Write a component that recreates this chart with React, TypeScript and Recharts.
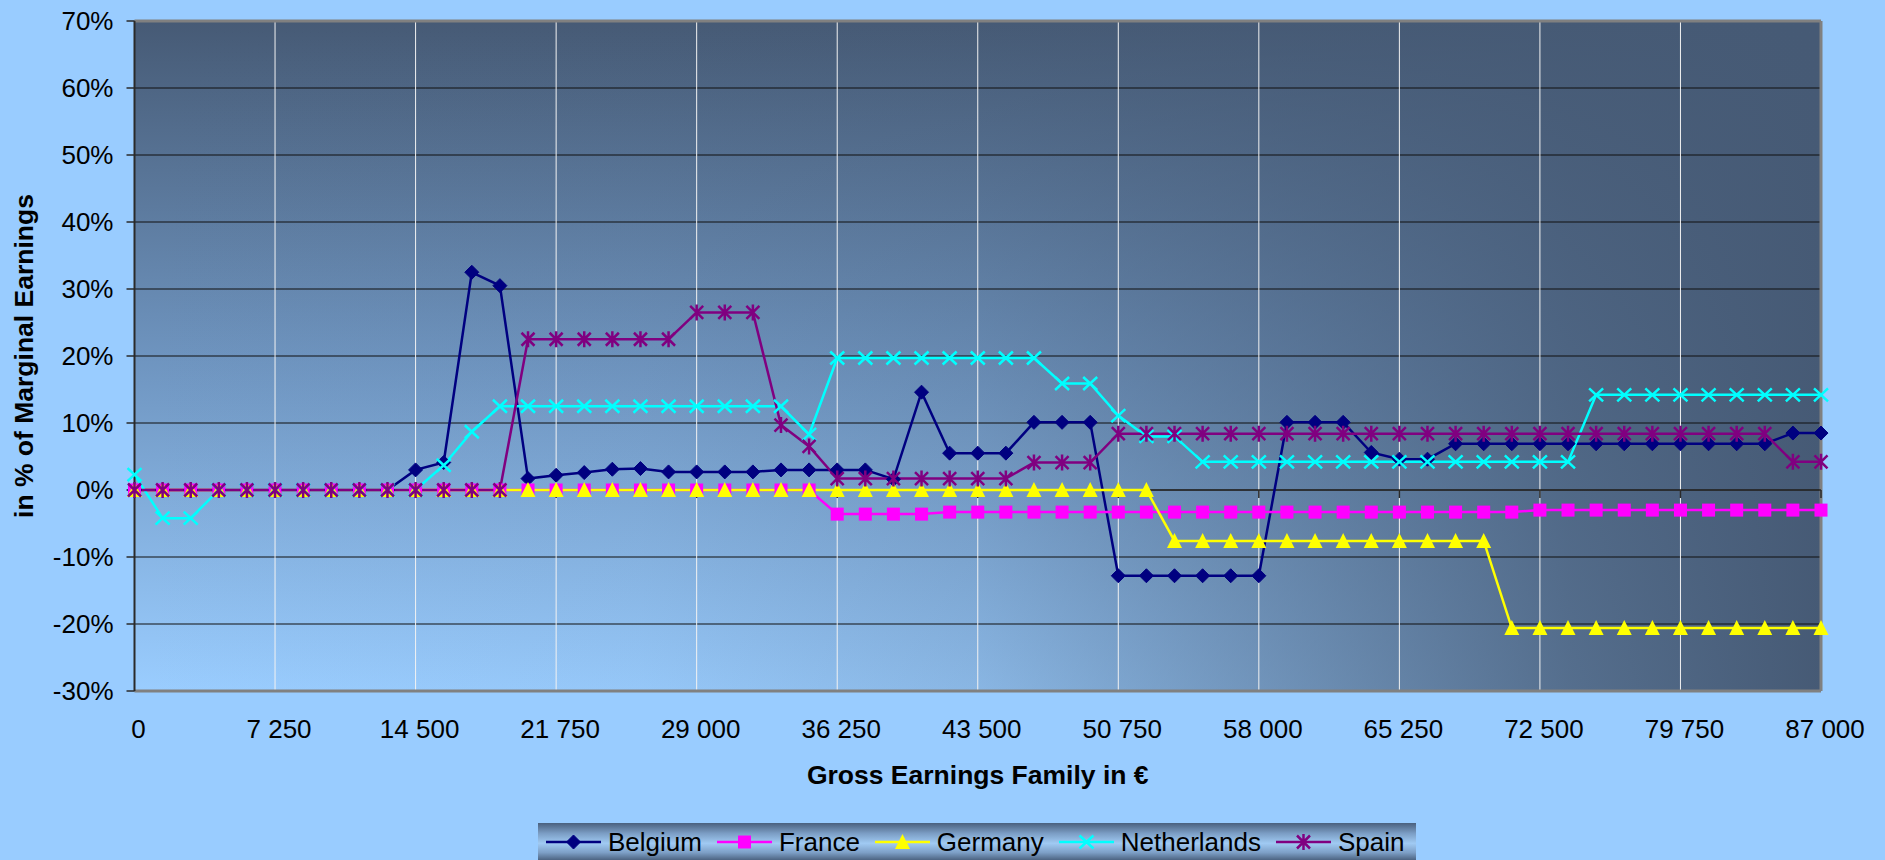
import React from 'react';
import { LineChart, Line, XAxis, YAxis, CartesianGrid, ReferenceLine, Legend } from 'recharts';

const FONT = '"Liberation Sans", Arial, Helvetica, sans-serif';

// Gross earnings of the family (categories on the x axis), in €
const INCOME = [
  0, 1450, 2900, 4350, 5800, 7250, 8700, 10150, 11600, 13050,
  14500, 15950, 17400, 18850, 20300, 21750, 23200, 24650, 26100, 27550,
  29000, 30450, 31900, 33350, 34800, 36250, 37700, 39150, 40600, 42050,
  43500, 44950, 46400, 47850, 49300, 50750, 52200, 53650, 55100, 56550,
  58000, 59450, 60900, 62350, 63800, 65250, 66700, 68150, 69600, 71050,
  72500, 73950, 75400, 76850, 78300, 79750, 81200, 82650, 84100, 85550,
  87000,
];

// Marginal earnings in % per country
const BELGIUM = [
  0, 0, 0, 0, 0, 0, 0, 0, 0, 0,
  3.0, 4.1, 32.5, 30.5, 1.7, 2.2, 2.6, 3.1, 3.2, 2.7,
  2.7, 2.7, 2.7, 3.0, 3.0, 3.0, 3.0, 1.6, 14.6, 5.5,
  5.5, 5.5, 10.1, 10.1, 10.1, -12.8, -12.8, -12.8, -12.8, -12.8,
  -12.8, 10.1, 10.1, 10.1, 5.6, 4.6, 4.6, 6.9, 6.9, 6.9,
  6.9, 6.9, 6.9, 6.9, 6.9, 6.9, 6.9, 6.9, 6.9, 8.5,
  8.5,
];
const FRANCE = [
  0, 0, 0, 0, 0, 0, 0, 0, 0, 0,
  0, 0, 0, 0, 0, 0, 0, 0, 0, 0,
  0, 0, 0, 0, 0, -3.6, -3.6, -3.6, -3.6, -3.3,
  -3.3, -3.3, -3.3, -3.3, -3.3, -3.3, -3.3, -3.3, -3.3, -3.3,
  -3.3, -3.3, -3.3, -3.3, -3.3, -3.3, -3.3, -3.3, -3.3, -3.3,
  -3.0, -3.0, -3.0, -3.0, -3.0, -3.0, -3.0, -3.0, -3.0, -3.0,
  -3.0,
];
const GERMANY = [
  0, 0, 0, 0, 0, 0, 0, 0, 0, 0,
  0, 0, 0, 0, 0, 0, 0, 0, 0, 0,
  0, 0, 0, 0, 0, 0, 0, 0, 0, 0,
  0, 0, 0, 0, 0, 0, 0, -7.6, -7.6, -7.6,
  -7.6, -7.6, -7.6, -7.6, -7.6, -7.6, -7.6, -7.6, -7.6, -20.6,
  -20.6, -20.6, -20.6, -20.6, -20.6, -20.6, -20.6, -20.6, -20.6, -20.6,
  -20.6,
];
const NETHERLANDS = [
  2.3, -4.2, -4.2, 0, 0, 0, 0, 0, 0, 0,
  0, 3.7, 8.7, 12.5, 12.5, 12.5, 12.5, 12.5, 12.5, 12.5,
  12.5, 12.5, 12.5, 12.5, 8.3, 19.7, 19.7, 19.7, 19.7, 19.7,
  19.7, 19.7, 19.7, 15.9, 15.9, 11.1, 8.0, 8.0, 4.2, 4.2,
  4.2, 4.2, 4.2, 4.2, 4.2, 4.2, 4.2, 4.2, 4.2, 4.2,
  4.2, 4.2, 14.2, 14.2, 14.2, 14.2, 14.2, 14.2, 14.2, 14.2,
  14.2,
];
const SPAIN = [
  0, 0, 0, 0, 0, 0, 0, 0, 0, 0,
  0, 0, 0, 0, 22.5, 22.5, 22.5, 22.5, 22.5, 22.5,
  26.5, 26.5, 26.5, 9.7, 6.5, 1.7, 1.7, 1.7, 1.7, 1.7,
  1.7, 1.7, 4.1, 4.1, 4.1, 8.4, 8.4, 8.4, 8.4, 8.4,
  8.4, 8.4, 8.4, 8.4, 8.4, 8.4, 8.4, 8.4, 8.4, 8.4,
  8.4, 8.4, 8.4, 8.4, 8.4, 8.4, 8.4, 8.4, 8.4, 4.2,
  4.2,
];

const X_TICKS = [0, 7250, 14500, 21750, 29000, 36250, 43500, 50750, 58000, 65250, 72500, 79750, 87000];
const Y_TICKS = [-30, -20, -10, 0, 10, 20, 30, 40, 50, 60, 70];

const X_TITLE = 'Gross Earnings Family in €';
const Y_TITLE = 'in % of Marginal Earnings';

type MarkerType = 'diamond' | 'square' | 'triangle' | 'x' | 'star';

const SERIES: { name: string; values: number[]; color: string; marker: MarkerType }[] = [
  { name: 'Belgium', values: BELGIUM, color: '#000080', marker: 'diamond' },
  { name: 'France', values: FRANCE, color: '#FF00FF', marker: 'square' },
  { name: 'Germany', values: GERMANY, color: '#FFFF00', marker: 'triangle' },
  { name: 'Netherlands', values: NETHERLANDS, color: '#00FFFF', marker: 'x' },
  { name: 'Spain', values: SPAIN, color: '#800080', marker: 'star' },
];

const data = INCOME.map((x, i) => {
  const row: Record<string, number> = { x };
  SERIES.forEach((s) => {
    row[s.name] = s.values[i];
  });
  return row;
});

const fmtThousands = (v: number) => String(v).replace(/\B(?=(\d{3})+(?!\d))/g, ' ');

function Marker({ type, cx, cy, color }: { type: MarkerType; cx: number; cy: number; color: string }) {
  if (cx == null || cy == null || isNaN(cx) || isNaN(cy)) return null;
  switch (type) {
    case 'diamond':
      return (
        <polygon
          points={`${cx},${cy - 7} ${cx + 7},${cy} ${cx},${cy + 7} ${cx - 7},${cy}`}
          fill={color}
          stroke={color}
          strokeWidth={1}
        />
      );
    case 'square':
      return <rect x={cx - 6.5} y={cy - 6.5} width={13} height={13} fill={color} />;
    case 'triangle':
      return <polygon points={`${cx},${cy - 8} ${cx + 7.5},${cy + 7} ${cx - 7.5},${cy + 7}`} fill={color} />;
    case 'x':
      return (
        <path
          d={`M${cx - 7},${cy - 6.5}L${cx + 7},${cy + 6.5}M${cx + 7},${cy - 6.5}L${cx - 7},${cy + 6.5}`}
          stroke={color}
          strokeWidth={2.5}
          fill="none"
        />
      );
    case 'star':
      return (
        <path
          d={`M${cx - 6.5},${cy - 6.5}L${cx + 6.5},${cy + 6.5}M${cx + 6.5},${cy - 6.5}L${cx - 6.5},${cy + 6.5}M${cx},${cy - 8}L${cx},${cy + 8}`}
          stroke={color}
          strokeWidth={2.5}
          fill="none"
        />
      );
    default:
      return null;
  }
}

const XTitle = (props: any) => {
  const vb = props.viewBox || { x: 135, y: 690, width: 1686, height: 132 };
  return (
    <text
      x={vb.x + vb.width / 2}
      y={vb.y + 93}
      textAnchor="middle"
      fontSize={26.5}
      fontWeight="bold"
      fill="#000"
      fontFamily={FONT}
    >
      {X_TITLE}
    </text>
  );
};

const YTitle = (props: any) => {
  const vb = props.viewBox || { x: 0, y: 21, width: 134.5, height: 669.5 };
  const cx = 33;
  const cy = vb.y + vb.height / 2;
  return (
    <text
      x={cx}
      y={cy}
      transform={`rotate(-90 ${cx} ${cy})`}
      textAnchor="middle"
      fontSize={26.5}
      fontWeight="bold"
      fill="#000"
      fontFamily={FONT}
    >
      {Y_TITLE}
    </text>
  );
};

const LegendContent = () => (
  <div
    style={{
      width: 878,
      height: 37,
      display: 'flex',
      alignItems: 'center',
      boxSizing: 'border-box',
      paddingLeft: 8,
      background:
        'linear-gradient(to bottom, #4a607e 0%, #7b9dc4 28%, #a0caf3 55%, #7d9fc6 80%, #4d6482 100%)',
      fontFamily: FONT,
      fontSize: 26,
      color: '#000',
      whiteSpace: 'nowrap',
    }}
  >
    {SERIES.map((s, i) => (
      <div key={s.name} style={{ display: 'flex', alignItems: 'center', marginLeft: i === 0 ? 0 : 15 }}>
        <svg width={55} height={20} style={{ display: 'block' }}>
          <line x1={0} y1={10} x2={55} y2={10} stroke={s.color} strokeWidth={2.5} />
          <Marker type={s.marker} cx={27.5} cy={10} color={s.color} />
        </svg>
        <span style={{ marginLeft: 7, lineHeight: '30px' }}>{s.name}</span>
      </div>
    ))}
  </div>
);

export default function App() {
  return (
    <div
      style={{
        position: 'absolute',
        left: 0,
        top: 0,
        width: 1885,
        height: 860,
        overflow: 'hidden',
        background: '#99CCFF',
        fontFamily: FONT,
      }}
    >
      <svg width={0} height={0} style={{ position: 'absolute' }}>
        <defs>
          <linearGradient id="bgV" x1="0" y1="0" x2="0" y2="1">
            <stop offset="0" stopColor="#465a75" />
            <stop offset="0.5" stopColor="#6e94bf" />
            <stop offset="1" stopColor="#9acdff" />
          </linearGradient>
          <linearGradient id="bgH" x1="0" y1="0" x2="1" y2="0">
            <stop offset="0" stopColor="#465a75" stopOpacity={0} />
            <stop offset="0.3" stopColor="#465a75" stopOpacity={0.05} />
            <stop offset="0.5" stopColor="#465a75" stopOpacity={0.2} />
            <stop offset="0.7" stopColor="#465a75" stopOpacity={0.55} />
            <stop offset="0.85" stopColor="#465a75" stopOpacity={0.82} />
            <stop offset="1" stopColor="#465a75" stopOpacity={1} />
          </linearGradient>
        </defs>
      </svg>
      <LineChart width={1885} height={860} data={data} margin={{ top: 21, right: 64, bottom: 0, left: 0 }}>
        <CartesianGrid horizontal={false} vertical={false} fill="url(#bgV)" fillOpacity={1} />
        <CartesianGrid horizontal={false} vertical={false} fill="url(#bgH)" fillOpacity={1} />
        <CartesianGrid vertical={false} stroke="#111" strokeWidth={1.2} />
        <CartesianGrid horizontal={false} stroke="#f2f2f2" strokeWidth={1} />
        <XAxis
          dataKey="x"
          type="number"
          domain={[0, 87000]}
          ticks={X_TICKS}
          interval={0}
          tickFormatter={fmtThousands}
          axisLine={false}
          tickLine={false}
          tickSize={0}
          tickMargin={29}
          height={132}
          tick={{ fontSize: 26, fill: '#000', fontFamily: FONT, dx: 4 }}
          label={<XTitle />}
        />
        <YAxis
          type="number"
          domain={[-30, 70]}
          ticks={Y_TICKS}
          interval={0}
          allowDataOverflow
          tickFormatter={(v: number) => `${v}%`}
          width={134.5}
          axisLine={{ stroke: '#2a2a2a', strokeWidth: 2 }}
          tickLine={{ stroke: '#2a2a2a', strokeWidth: 1.5 }}
          tickSize={8}
          tickMargin={13}
          tick={{ fontSize: 26, fill: '#000', fontFamily: FONT }}
          label={<YTitle />}
        />
        <ReferenceLine y={70} stroke="#808080" strokeWidth={3} />
        <ReferenceLine y={-30} stroke="#808080" strokeWidth={3} />
        <ReferenceLine x={87000} stroke="#808080" strokeWidth={3} />
        <ReferenceLine y={0} stroke="#2a2a2a" strokeWidth={1.5} />
        {X_TICKS.slice(1).map((t) => (
          <ReferenceLine
            key={`tk-${t}`}
            segment={[
              { x: t, y: 0 },
              { x: t, y: -1.2 },
            ]}
            stroke="#2a2a2a"
            strokeWidth={1.5}
          />
        ))}
        <Legend
          verticalAlign="bottom"
          content={<LegendContent />}
          wrapperStyle={{ left: 538, top: 823, width: 878, height: 37 }}
        />
        {SERIES.map((s) => (
          <Line
            key={s.name}
            type="linear"
            dataKey={s.name}
            name={s.name}
            stroke={s.color}
            strokeWidth={2.5}
            isAnimationActive={false}
            activeDot={false}
            dot={(p: any) => (
              <g key={`${s.name}-${p.index}`}>
                <Marker type={s.marker} cx={p.cx} cy={p.cy} color={s.color} />
              </g>
            )}
          />
        ))}
      </LineChart>
    </div>
  );
}
